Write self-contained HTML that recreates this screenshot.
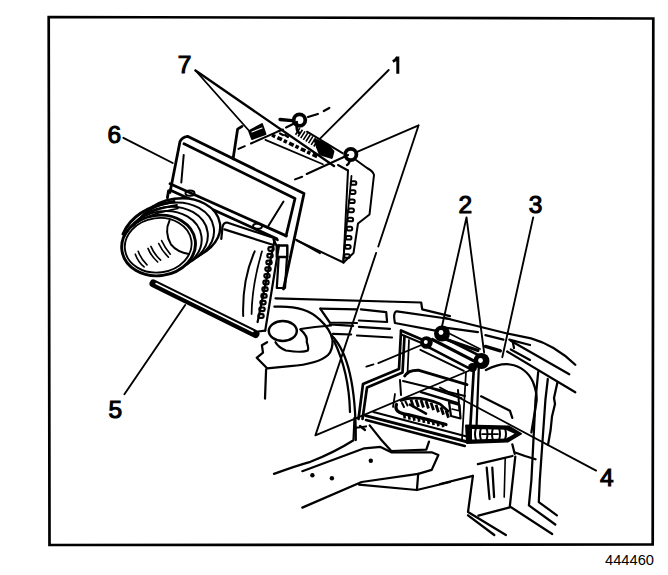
<!DOCTYPE html>
<html><head><meta charset="utf-8">
<style>
html,body{margin:0;padding:0;background:#fff;width:668px;height:575px;overflow:hidden}
svg{display:block}
text{font-family:"Liberation Sans",sans-serif;fill:#000}
</style></head><body>
<svg width="668" height="575" viewBox="0 0 668 575">
<g fill="none" stroke="#000" stroke-linecap="round" stroke-linejoin="round">
<!-- frame -->
<path d="M48.7 17 L653.3 18.5 L652.7 544.5 L49.5 545 Z" stroke-width="2.7" stroke-linejoin="miter"/>

<!-- ===== MODULE 1 (ECM) ===== -->
<g stroke-width="2.00">
<!-- left edge -->
<path d="M233.1 158.8 L237.6 129.1 L242 126.4" stroke-width="2.8"/>
<!-- top dashed edge -->
<path d="M238.5 148.9 L244.8 146.2 M251 143.5 L277.1 131.8 L283 129.5"/>
<!-- marks band lower edge -->
<path d="M265.4 139.9 L322.9 164.2" stroke-width="1.75"/>
<path d="M272 135 L318 157" stroke-width="3.6" stroke-dasharray="3.5 2.5 5 2" stroke-linecap="butt"/>
<path d="M280 133.5 L283 135 M285 135 L288 137" stroke-width="2.2"/>
<!-- front bottom edge -->
<path d="M297 240.5 L343.5 262.5"/>
<!-- front right edge -->
<path d="M348 170.5 L343.5 262.5"/>
<!-- right side -->
<path d="M338 165 L348 170.5 M356 160 L367 168 Q373 171 374 175 L369.5 214.5 L358 223.5 L353.5 253 L343.5 262.5"/>
<!-- dashed line from bolt 2 -->
<path d="M348.2 155 L306.7 174 M302.2 176.7 L295 179.4"/>
<!-- ribs -->
<path d="M297 131 L322 147" stroke-width="8" stroke-dasharray="1.6 1.5" stroke-linecap="butt"/>
<path d="M307 131.7 L342.5 153.2" stroke-width="2.00"/>
<path d="M315 140 L327 144.5 L333 151.5 L331.5 157.5 L320 154 Z" fill="#000" stroke-width="2.80"/>
<!-- bolt 1 arms / dashes -->
<path d="M280 119.5 L292.2 120.7" stroke-width="3.36"/>
<path d="M286.1 127.4 L297 121.9" stroke-width="2.24"/>
<path d="M297 124 Q296 130 299 133" stroke-width="2.80"/>
<path d="M308 117 L317.8 114 M323.8 111 L329.3 107.9" stroke-width="2.24"/>
<!-- connector teeth on side -->
<rect x="350.8" y="181.2" width="5.5" height="3.6" rx="1.6" stroke-width="2"/><rect x="350.0" y="190.3" width="5.5" height="3.6" rx="1.6" stroke-width="2"/><rect x="349.2" y="199.4" width="5.5" height="3.6" rx="1.6" stroke-width="2"/><rect x="348.4" y="208.6" width="5.5" height="3.6" rx="1.6" stroke-width="2"/><rect x="347.6" y="217.7" width="5.5" height="3.6" rx="1.6" stroke-width="2"/><rect x="346.7" y="226.8" width="5.5" height="3.6" rx="1.6" stroke-width="2"/><rect x="345.9" y="235.9" width="5.5" height="3.6" rx="1.6" stroke-width="2"/><rect x="345.1" y="245.1" width="5.5" height="3.6" rx="1.6" stroke-width="2"/><rect x="344.3" y="254.2" width="5.5" height="3.6" rx="1.6" stroke-width="2"/><path d="M351.5 176 L343 262" stroke-width="1.8"/>
</g>
<!-- connector 7 left -->
<path d="M249 131 L262 124 L265.5 134 L252 139 Z" fill="#000" stroke-width="1.88"/>
<path d="M252 132 L262 128" stroke="#fff" stroke-width="1.20"/>
<!-- bolt 1 -->
<circle cx="299.5" cy="120.1" r="5.8" stroke-width="3.8"/>
<!-- bolt 2 -->
<circle cx="350.8" cy="154.5" r="5.6" stroke-width="3.8"/><path d="M350 160 Q349 164 347 165" stroke-width="2.5"/>

<!-- ===== FRAME 6 ===== -->
<g stroke-width="2.80">
<path d="M170 192.5 L180 141.5 Q182 137 187.5 136.3 L304 193.5 L283.5 289"/>
<path d="M184 143.8 L295 198.5 L286 236"/>
<path d="M183.7 155 L181.3 182.5" stroke-width="2.00"/>
<path d="M168.5 191 L167.4 197.8" />
<path d="M170 183.7 L286.3 235.9"/>
<path d="M170 190 L276.8 238.8"/>
<path d="M268.2 226.3 L283.5 201.5" stroke-width="2.00"/>
<ellipse cx="190" cy="193.2" rx="4.5" ry="2.6" stroke-width="2.00"/>
<ellipse cx="257.5" cy="226.2" rx="4.5" ry="2.6" stroke-width="2.00"/>
<!-- connector block + slot -->
<path d="M276.8 245.5 L287.3 245.5 L287.3 256.9 L276.8 256.9 Z" stroke-width="2.46"/>
<path d="M278.7 256.9 L276.8 288 L285 288 L287 256.9" stroke-width="2.24"/>
</g>

<!-- ===== AIR CLEANER HOUSING 5 ===== -->
<g stroke-width="2.24">
<!-- top edges -->
<path d="M221.3 238.8 L222.5 227 Q223.5 222.5 227 222.5 L274 238 L277.7 240"/>
<path d="M224.4 229.4 L273.5 245"/>
<path d="M273.5 239.5 L276.5 245.5"/>
<!-- front right edge & fin side -->
<path d="M274.5 240.5 L257.6 322"/>
<path d="M279 245.5 L265.2 330.6"/>
<g transform=""><rect x="268.4" y="247.2" width="5.2" height="3.6" rx="1.3" stroke-width="2.24"/><rect x="267.4" y="253.9" width="5.2" height="3.6" rx="1.3" stroke-width="2.24"/><rect x="266.4" y="260.6" width="5.2" height="3.6" rx="1.3" stroke-width="2.24"/><rect x="265.4" y="267.3" width="5.2" height="3.6" rx="1.3" stroke-width="2.24"/><rect x="264.4" y="274.0" width="5.2" height="3.6" rx="1.3" stroke-width="2.24"/><rect x="263.4" y="280.7" width="5.2" height="3.6" rx="1.3" stroke-width="2.24"/><rect x="262.4" y="287.4" width="5.2" height="3.6" rx="1.3" stroke-width="2.24"/><rect x="261.4" y="294.1" width="5.2" height="3.6" rx="1.3" stroke-width="2.24"/><rect x="260.4" y="300.8" width="5.2" height="3.6" rx="1.3" stroke-width="2.24"/><rect x="259.4" y="307.5" width="5.2" height="3.6" rx="1.3" stroke-width="2.24"/><rect x="258.4" y="314.2" width="5.2" height="3.6" rx="1.3" stroke-width="2.24"/></g>
<!-- inner arcs -->
<path d="M254.7 251.3 Q242 280 243.2 316" stroke-width="2.00"/>
<path d="M262 251.3 Q252 285 251.6 314" stroke-width="1.75"/>
<!-- bottom edge plate -->
<path d="M153.5 283.5 L255.5 334" stroke-width="8"/>
<path d="M156 283.5 L253 331.5" stroke="#fff" stroke-width="1.5"/>
<path d="M258 331.5 L265.2 330.6"/>
<!-- module bottom edge continuing -->
<path d="M295.9 239.7 L320 253.1" stroke-width="2.00"/>
</g>

<!-- ===== DUCT ===== -->
<g stroke-width="2.25">
<ellipse cx="178.6" cy="229.5" rx="41.8" ry="31.0" transform="rotate(-8 178.6 229.5)" fill="#fff" stroke-width="2.4"/>
<ellipse cx="173.6" cy="233.5" rx="40.6" ry="30.8" transform="rotate(-8 173.6 233.5)" fill="#fff" stroke-width="2.0"/>
<ellipse cx="168.6" cy="237.5" rx="39.4" ry="30.6" transform="rotate(-8 168.6 237.5)" fill="#fff" stroke-width="2.0"/>
<ellipse cx="163.6" cy="241.5" rx="38.2" ry="30.4" transform="rotate(-8 163.6 241.5)" fill="#fff" stroke-width="2.0"/>
<ellipse cx="158.6" cy="245.5" rx="37" ry="30.2" transform="rotate(-8 158.6 245.5)" fill="#fff" stroke-width="2.91"/>
<ellipse cx="158.2" cy="245.3" rx="33.5" ry="27.2" transform="rotate(-8 158.2 245.3)" stroke-width="1.88"/>
<path d="M169.5 220.6 Q164 232 170.9 244.3 Q177 252 189 254" stroke-width="2.00"/>
<path d="M123 234 Q134 208 174 201.5" stroke-width="3"/>
<path d="M127 232 Q139 211 177 205" stroke-width="1.8"/>
<path d="M133 226 Q146 214 178 208.5" stroke-width="1.6"/>
<g stroke-width="1.62">
<path d="M135.3 254.2 Q138 262 144.1 266.9"/><path d="M138.2 251.3 Q141 259 147 264.9"/>
<path d="M148 248.4 Q151 256 157.7 262"/><path d="M150.9 246.4 Q154 254 160.6 260.1"/>
<path d="M158.7 243.5 Q162 251 168.4 257.1"/><path d="M161.6 240.6 Q165 248 170.3 254.2"/>
</g>
</g>

<!-- ===== MOUNT / SHELF ===== -->
<g stroke-width="2.25">
<!-- big oval -->
<path d="M274.4 306.7 Q305 305 319.3 319.2 Q331 330 332.5 340 Q333 350 328 355 Q318 364 290.1 366.2 L267.1 368.3 L256.7 357.8 L263 352.6 L261.9 345.3 L267.1 342.2"/>
<!-- grommet -->
<ellipse cx="282.8" cy="331" rx="14" ry="10" stroke-width="2.46"/>
<path d="M300.5 329.7 Q308 336 306.8 342.2 Q309 349 307.8 350.5 Q303 353 285.9 350.5 Q278 347 275.5 342.2"/>
<path d="M300.5 329 L315 327 L331 325.5"/>
<path d="M266.1 369.3 L265 398.6" stroke-width="2.24"/>
<!-- shelf lines -->
<path d="M275.5 298.4 L421.2 302.5 L422.2 309.3 L450 316.1" stroke-width="2.24"/>
<path d="M444.8 318 L507.1 333.5 L531 338.3 Q555 345 575.3 364.7"/>
<path d="M320.4 308.6 L357 309.3 M360.9 309.3 L386.2 312.2 L387.1 322 L358.9 320.5" stroke-width="2.24"/>
<path d="M320.4 308.8 L329.8 322.5 L357 323"/>
<path d="M329.8 324.4 L353.1 325.9 M358.9 326.8 L390 328.8" stroke-width="2.24"/>
<path d="M332.9 333.8 L351.1 334.5 M357 335.5 L392 337.5" stroke-width="2.24"/>
<path d="M397 311.3 L450 319 M396 311.5 Q393 313 394.9 323 L440.7 331.7" stroke-width="2.24"/>
<path d="M445 327.7 L477.9 332.2 M485.4 335.2 L503.4 339.7 M509.3 339.7 L530 345"/>
<path d="M485.4 346.4 L500.4 350.9" stroke-width="3.2"/><path d="M510.8 349.4 L530 359.9"/>
<path d="M510.7 340.7 L569.3 374.3"/>
<path d="M507.1 351.5 L575.3 392.2"/>
<path d="M513 343 L514 348"/>
<!-- mount side curves -->
<path d="M331.9 335.9 Q356 360 355.8 440"/>
<path d="M334 341 Q349 372 350 412"/>
</g>

<!-- ===== BRACKET / MODULE LOWER RIGHT ===== -->
<g stroke-width="2.25">
<!-- bracket left rail (double dark) -->
<path d="M401 331 L399 369 L363 384 L358.5 419" stroke-width="2.69"/>
<path d="M404.5 336 L402.5 372.5 L367 387.5 L362.5 419" stroke-width="2.69"/>
<path d="M409 340 L407.5 374" stroke-width="1.75"/>
<!-- top rail -->
<path d="M401 330.5 L421.9 339.5" stroke-width="2.69"/>
<path d="M402.5 335 L420.4 342.5" stroke-width="2.00"/>
<path d="M432.4 339.5 L475.8 361.9" stroke-width="3.20"/><path d="M445 339 L478 350.5" stroke-width="3.20"/>
<path d="M427.9 346.9 L468.3 367.9" stroke-width="2.69"/>
<path d="M420.4 349.9 L463.8 370.9" stroke-width="2.00"/>
<path d="M447.4 339.5 L480 355.9" stroke-width="2.69"/>
<path d="M450.4 334 L480 349" stroke-width="1.75"/>
<!-- right rail -->
<path d="M474 366 L469.5 440" stroke-width="2.69"/>
<path d="M479 362 L476 440" stroke-width="2.24"/>
<path d="M466 372 L462 440" stroke-width="1.75"/>
<!-- module top inside -->
<path d="M404.7 376 Q408 370 419 370.3 L467 384.7" stroke-width="2.91"/>
<path d="M403 381 L465 396" stroke-width="2.00"/>
<path d="M400 380 L401 395" stroke-width="2.00"/>
<path d="M458 390 L459.4 410" stroke-width="2.00"/>
<path d="M395 394 L393 407" stroke-width="1.75"/>
<!-- bottom plate -->
<path d="M365.6 415.6 L466.8 441.8" stroke-width="3"/>
<path d="M366 420 L464.8 446" stroke-width="2.6"/>
<path d="M373.4 412 L466.8 436.5" stroke-width="2.2"/>

<path d="M360 426 L365 430"/>
<!-- gear -->
<path d="M401 400.5 Q417 394.5 440 404 L448 411" stroke-width="2.8"/>
<path d="M396.5 404.5 Q393.5 413 408 414.6 Q426 419 446 424.5" stroke-width="3.2"/>
<path d="M410 404.7 L426 413.7" stroke-width="2.6"/>
<path d="M421 392.2 L456.9 403" stroke-width="2.4"/>
<path d="M428.1 387.4 L461.6 398.2" stroke-width="2"/>
<path d="M402 403 L404 407 M405.5 401.5 L407.5 405.5" stroke-width="2"/>
<path d="M411.0 399.6 L413.5 407.1" stroke-width="2.8" stroke-linecap="butt"/>
<path d="M416.0 399.5 L418.5 407.0" stroke-width="2.8" stroke-linecap="butt"/>
<path d="M421.0 400.0 L423.5 407.5" stroke-width="2.8" stroke-linecap="butt"/>
<path d="M426.0 401.0 L428.5 408.5" stroke-width="2.8" stroke-linecap="butt"/>
<path d="M431.0 402.6 L433.5 410.1" stroke-width="2.8" stroke-linecap="butt"/>
<path d="M436.0 404.7 L438.5 412.2" stroke-width="2.8" stroke-linecap="butt"/>
<path d="M441.0 407.3 L443.5 414.8" stroke-width="2.8" stroke-linecap="butt"/>
<path d="M446.0 410.2 L448.5 417.7" stroke-width="2.8" stroke-linecap="butt"/>
<path d="M404.0 413.5 L404.8 418.5" stroke-width="2.6" stroke-linecap="butt"/>
<path d="M408.8 414.6 L409.6 419.6" stroke-width="2.6" stroke-linecap="butt"/>
<path d="M413.6 415.7 L414.4 420.7" stroke-width="2.6" stroke-linecap="butt"/>
<path d="M418.4 416.8 L419.2 421.8" stroke-width="2.6" stroke-linecap="butt"/>
<path d="M423.2 417.9 L424.0 422.9" stroke-width="2.6" stroke-linecap="butt"/>
<path d="M428.0 419.0 L428.8 424.0" stroke-width="2.6" stroke-linecap="butt"/>
<path d="M432.8 420.1 L433.6 425.1" stroke-width="2.6" stroke-linecap="butt"/>
<path d="M437.6 421.2 L438.4 426.2" stroke-width="2.6" stroke-linecap="butt"/>
<path d="M442.4 422.3 L443.2 427.3" stroke-width="2.6" stroke-linecap="butt"/>
<path d="M449 402 L459.5 405 L460.5 418.5 L451 416 Z" stroke-width="2.2"/>
<path d="M452 409 L460 411" stroke-width="1.6"/>
<!-- hose -->
<path d="M466 425.5 L509 426.5 L521 433.7 L508 441.5 L467 443 Z" fill="#000" stroke-width="1.88"/>
<path d="M472 429 L506 429.8 L514.5 433.8 L506 438.5 L472 439.5 Z" fill="#fff" stroke="none"/>
<g stroke-width="2.00">
<path d="M471 428 Q469 434 471 440 M476 428 Q474 434 476 440 M481 428 Q479 434 481 440 M486.5 428 Q488.5 434 486.5 440 M493 428 Q491 434 493 440 M499 428 Q501 434 499 440 M505 428.5 Q507 434 505 439.5"/>
<path d="M482 434 L498 434" stroke-width="1.75"/>
</g>
<!-- dashed thin line from bolts -->
<path d="M423.8 344 L378.3 363.1 M373.5 364.3 L366.3 366.7" stroke-width="1.75"/>
</g>
<!-- bolts -->
<g stroke="none" fill="#000">
<circle cx="442" cy="333.5" r="8"/>
<circle cx="426.4" cy="342.5" r="6.3"/>
<circle cx="481.5" cy="361" r="8"/>
<circle cx="472.5" cy="367.5" r="4.5"/>
</g>
<g stroke="none" fill="#fff">
<circle cx="441" cy="332.5" r="2.4"/>
<circle cx="425.8" cy="342" r="2"/>
<circle cx="480.5" cy="360.5" r="2.4"/>
</g>
<g stroke-width="2.25">
<!-- dome -->
<path d="M485.9 370 Q500 363 510 364.5 Q526 367 533 382 Q538 395 536.2 403.5 L531.4 432.3"/>
<path d="M538.2 372 L535.5 400 L531.4 480 L528.9 505.4 L555.3 524.5"/>
<path d="M547.8 379 L545.4 400 L539.8 480 L538.8 502.1 L556.9 515.3"/>
<path d="M557.4 382.6 L554 398 L555 404 L552 416.5 L550.6 430 L548 445"/>
<path d="M477.9 464.2 L512.5 456 M515.8 452.7 L525 456 L535.5 459.3"/>
<path d="M486.7 467.6 L489.5 499 M492.3 467.6 L494.1 497.1"/><path d="M478.4 515.6 L509.8 507.3"/><path d="M505.2 458.4 L504.2 497.1" stroke-width="1.6"/>
<path d="M515.3 456.6 L509.8 506.4 L552.2 534"/>
<path d="M472.9 475.8 L468 512 L505.9 535 M468 515.3 L494.3 535"/>
<path d="M440 484 L472.9 475.8"/>
<path d="M481.1 396.3 L509.9 410.7 L512.3 417.9"/>
<path d="M512.3 444.3 L514.7 453.8"/>
</g>

<!-- ===== FLOOR ===== -->
<g stroke-width="2.25">
<path d="M274 473.9 Q295 466 310.4 461.8 Q335 452 353.5 440.2 L354.5 418 M354 428 L366 426.5"/>
<path d="M302.3 471.2 L364.3 448.3 L380.5 446.9 L391.3 452.3 L431.7 452.3 L438.4 455 L431.7 469.9 L418.2 473.9 L416.9 490"/>
<path d="M418.2 473.9 L361.6 482 L302.3 507.6"/>
<path d="M358.9 484.7 L416.9 490 L450 482"/>
<path d="M369.7 425.4 L380.5 438.9 L391.3 451 L426.3 449.6 L429 441.6"/>
<circle cx="312.4" cy="475.2" r="2.2" fill="#000" stroke="none"/>
<circle cx="331.9" cy="478.2" r="2.2" fill="#000" stroke="none"/>
<circle cx="370.8" cy="460.8" r="2.2" fill="#000" stroke="none"/>
</g>

<!-- leaders -->
<g stroke-width="1.88">
<path d="M195.5 70.5 L248.4 130"/><path d="M195.5 70.5 L334 166" stroke-width="2.4"/>
<path d="M388.7 70 L319.8 138.8"/>
<path d="M123.4 137.8 L172.7 163"/>
<path d="M124.4 394.2 L185.2 305"/>
<path d="M418.6 125.3 L355.9 152.4 M418.6 125.3 L378.3 246.5 M376.1 253 L315.4 435.4 L469.5 370.5"/>
<path d="M466.5 217.4 L441.9 326.7 M466.5 217.4 L484.1 352.3"/>
<path d="M533.2 217.4 L502.3 357.2"/>
<path d="M596.1 470.6 L440 387.5"/>
</g>
</g>
<g font-size="24.5" stroke="#000" stroke-width="1.1">
<text x="177.8" y="72.9">7</text>

<text x="107.6" y="143.3">6</text>
<text x="458.5" y="212.6">2</text>
<text x="528.7" y="212.8">3</text>
<text x="108.5" y="417.8">5</text>
<text x="600" y="486.3">4</text>
</g>
<path d="M397.8 56.5 L397.8 73.8 M392.8 61.5 Q396 60 397.6 56.8" fill="none" stroke="#000" stroke-width="3" stroke-linecap="butt"/>
<text x="605" y="565" font-size="14" textLength="49" lengthAdjust="spacingAndGlyphs">444460</text>
</svg>
</body></html>
